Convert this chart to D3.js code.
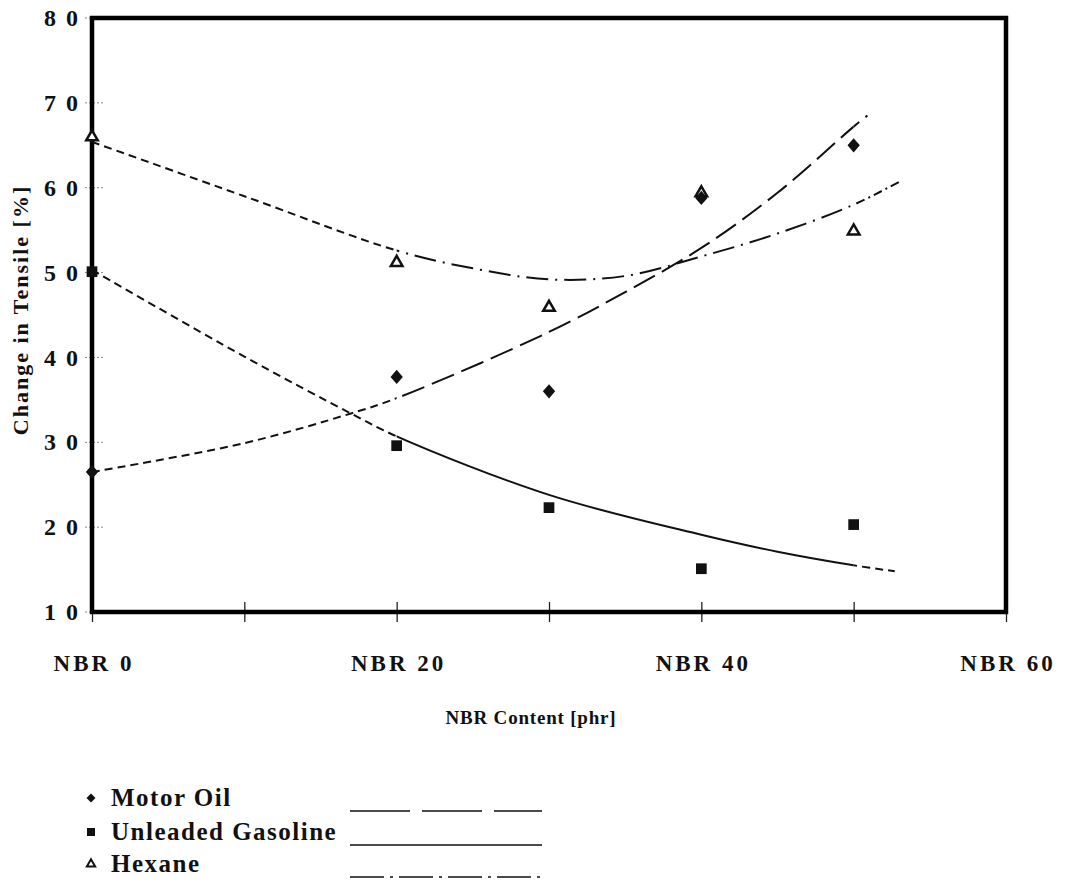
<!DOCTYPE html>
<html>
<head>
<meta charset="utf-8">
<style> body { margin: 0; background: #fff; } </style>
<script src="https://cdn.jsdelivr.net/npm/d3@7/dist/d3.min.js"></script>
</head>
<body>
<div id="chart"></div>
<script>

// measured points
var nbr = [0, 20, 30, 40, 50];
var motorOil = [26.5, 37.7, 36.0, 58.8, 65.0];
var gasoline = [50.1, 29.6, 22.3, 15.1, 20.3];
var hexane = [66.1, 51.3, 46.0, 59.5, 55.0];

// trend curves
var motorTrendX = [0, 10, 17, 20, 30, 35, 40, 45, 50, 50.9];
var motorTrendY = [26.5, 29.9, 33.4, 35.2, 43.0, 47.7, 52.9, 59.4, 67.2, 68.5];
var gasTrendX = [0, 10, 17, 20, 30, 40, 45, 50, 52.7];
var gasTrendY = [50.3, 40.1, 33.4, 30.7, 23.8, 19.1, 17.1, 15.5, 14.8];
var hexTrendX = [0, 10, 20, 25, 30, 35, 40, 45, 50, 53];
var hexTrendY = [65.4, 59.0, 52.6, 50.5, 49.2, 49.6, 51.9, 54.6, 58.0, 60.7];

var xTicks = [0, 10, 20, 30, 40, 50, 60];
var xLabels = ["NBR 0", "NBR 20", "NBR 40", "NBR 60"];
var xLabelPos = [0, 20, 40, 60];
var yTicks = [10, 20, 30, 40, 50, 60, 70, 80];
var seriesNames = ["Motor Oil", "Unleaded Gasoline", "Hexane"];

var W = 1072, H = 883;
var margin = { left: 92, right: 1006, top: 18, bottom: 612 };
var serif = "'Liberation Serif', 'DejaVu Serif', serif";

var svg = d3.select("#chart").append("svg")
    .attr("width", W)
    .attr("height", H);

var x = d3.scaleLinear().domain([0, 60]).range([margin.left, margin.right]);
var y = d3.scaleLinear().domain([10, 80]).range([margin.bottom, margin.top]);

// y axis ticks + labels
var yAxis = svg.append("g")
    .attr("transform", "translate(" + margin.left + ",0)")
    .call(d3.axisLeft(y).tickValues(yTicks).tickSize(0).tickPadding(12)
        .tickFormat(d => String(d).split("").join(" ")));
yAxis.select(".domain").remove();
yAxis.selectAll("text")
    .attr("font-family", serif)
    .attr("font-weight", "bold")
    .attr("font-size", 24)
    .attr("letter-spacing", 2)
    .attr("fill", "#111");
svg.append("g").selectAll("line")
    .data(yTicks)
    .enter().append("line")
    .attr("x1", margin.left - 7).attr("x2", margin.left + 12)
    .attr("y1", d => y(d)).attr("y2", d => y(d))
    .attr("stroke", "#888")
    .attr("stroke-width", 1)
    .attr("stroke-dasharray", "2,2");

// x axis ticks
var xAxis = svg.append("g")
    .attr("transform", "translate(0," + margin.bottom + ")")
    .call(d3.axisBottom(x).tickValues(xTicks).tickSize(10).tickFormat(""));
xAxis.select(".domain").remove();
xAxis.selectAll(".tick line")
    .attr("y1", d => d === 0 ? 0 : -10)
    .attr("stroke", "#222")
    .attr("stroke-width", 1.3);

// frame
svg.append("rect")
    .attr("x", margin.left).attr("y", margin.top)
    .attr("width", margin.right - margin.left).attr("height", margin.bottom - margin.top)
    .attr("fill", "none")
    .attr("stroke", "#000")
    .attr("stroke-width", 4.5);

// x labels
svg.append("g").selectAll("text")
    .data(xLabels)
    .enter().append("text")
    .attr("x", (d, i) => x(xLabelPos[i]) + 2)
    .attr("y", 671)
    .attr("text-anchor", "middle")
    .attr("font-family", serif)
    .attr("font-weight", "bold")
    .attr("font-size", 23)
    .attr("letter-spacing", 3)
    .attr("fill", "#111")
    .text(d => d);

svg.append("text")
    .attr("x", 531).attr("y", 724)
    .attr("text-anchor", "middle")
    .attr("font-family", serif)
    .attr("font-weight", "bold")
    .attr("font-size", 19)
    .attr("letter-spacing", 0.8)
    .attr("fill", "#111")
    .text("NBR Content  [phr]");

svg.append("text")
    .attr("transform", "translate(28,310) rotate(-90)")
    .attr("text-anchor", "middle")
    .attr("font-family", serif)
    .attr("font-weight", "bold")
    .attr("font-size", 22)
    .attr("letter-spacing", 2)
    .attr("fill", "#111")
    .text("Change in Tensile [%]");

// clip regions for line style changes
var defs = svg.append("defs");
var ranges = [[0, 20], [20, 50], [50, 60]];
ranges.forEach(function(r, i) {
    defs.append("clipPath").attr("id", "seg" + i)
        .append("rect")
        .attr("x", x(r[0])).attr("y", 0)
        .attr("width", x(r[1]) - x(r[0])).attr("height", H);
});

var trends = [
    { xs: motorTrendX, ys: motorTrendY, dash: ["8,5", "24,8", "24,8"] },
    { xs: gasTrendX, ys: gasTrendY, dash: ["8,5", null, "8,5"] },
    { xs: hexTrendX, ys: hexTrendY, dash: ["8,5", "22,7,2,7", "9,4,2,4"] }
];

var line = d3.line()
    .curve(d3.curveCatmullRom)
    .x(d => x(d[0]))
    .y(d => y(d[1]));

var lines = svg.append("g");
trends.forEach(function(t) {
    var pts = t.xs.map((v, i) => [v, t.ys[i]]);
    t.dash.forEach(function(ds, i) {
        lines.append("path")
            .datum(pts)
            .attr("clip-path", "url(#seg" + i + ")")
            .attr("fill", "none")
            .attr("stroke", "#111")
            .attr("stroke-width", 2)
            .attr("stroke-dasharray", ds)
            .attr("d", line);
    });
});

// markers
var diamond = d3.symbol().type(d3.symbolSquare).size(84);
var square = d3.symbol().type(d3.symbolSquare).size(115);
var triangle = d3.symbol().type(d3.symbolTriangle).size(58);

var marks = svg.append("g");
marks.selectAll(".tri")
    .data(hexane)
    .enter().append("path")
    .attr("transform", (d, i) => "translate(" + x(nbr[i]) + "," + (y(d) + 1) + ")")
    .attr("d", triangle)
    .attr("fill", "#fff")
    .attr("stroke", "#111")
    .attr("stroke-width", 2.5);
marks.selectAll(".dia")
    .data(motorOil)
    .enter().append("path")
    .attr("transform", (d, i) => "translate(" + x(nbr[i]) + "," + y(d) + ") scale(0.95,1.1) rotate(45)")
    .attr("d", diamond)
    .attr("fill", "#111");
marks.selectAll(".sq")
    .data(gasoline)
    .enter().append("path")
    .attr("transform", (d, i) => "translate(" + x(nbr[i]) + "," + y(d) + ")")
    .attr("d", square)
    .attr("fill", "#111");

// legend
var legY = [806, 840, 872];
var legDash = ["60,12", null, "34,6,3,6"];
var legSym = [
    d3.symbol().type(d3.symbolSquare).size(40),
    d3.symbol().type(d3.symbolSquare).size(64),
    d3.symbol().type(d3.symbolTriangle).size(30)
];
var legend = svg.append("g");
seriesNames.forEach(function(name, i) {
    var g = legend.append("g");
    var sym = g.append("path")
        .attr("d", legSym[i])
        .attr("transform", "translate(91," + (legY[i] - 8) + ")" + (i === 0 ? " rotate(45)" : ""));
    if (i === 2) sym.attr("fill", "#fff").attr("stroke", "#111").attr("stroke-width", 2);
    else sym.attr("fill", "#111");
    g.append("text")
        .attr("x", 111).attr("y", legY[i])
        .attr("font-family", serif)
        .attr("font-weight", "bold")
        .attr("font-size", 25)
        .attr("letter-spacing", 1.5)
        .attr("fill", "#111")
        .text(name);
    g.append("line")
        .attr("x1", 350).attr("x2", 542)
        .attr("y1", legY[i] + 5).attr("y2", legY[i] + 5)
        .attr("stroke", "#111")
        .attr("stroke-width", 1.6)
        .attr("stroke-dasharray", legDash[i]);
});

</script>
</body>
</html>
